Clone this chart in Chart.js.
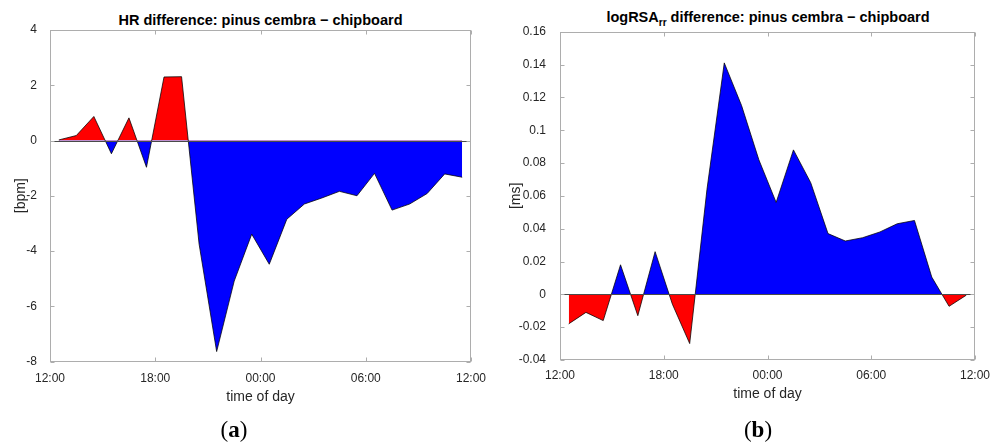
<!DOCTYPE html>
<html><head><meta charset="UTF-8">
<title>HR and logRSA difference</title>
<script src="https://cdn.jsdelivr.net/npm/chart.js"></script>
<style>
body{margin:0;width:999px;height:443px;background:#fff;position:relative;overflow:hidden;font-family:"Liberation Sans",Arial,sans-serif}
canvas{position:absolute;top:0}
#c1{left:0} #c2{left:500px}
.title{position:absolute;font-weight:bold;font-size:14.5px;line-height:16px;white-space:nowrap;transform:translateX(-50%);color:#000}
.title sub{font-size:10px;vertical-align:-4px;line-height:0}
.cap{position:absolute;font-family:"Liberation Serif",serif;font-size:23px;line-height:26px;transform:translate(-50%,-50%);color:#000}
</style></head><body>
<div class="title" style="left:260.5px;top:12px">HR difference: pinus cembra − chipboard</div>
<div class="title" style="left:768px;top:9px">logRSA<sub>rr</sub> difference: pinus cembra − chipboard</div>
<canvas id="c1" width="500" height="443"></canvas>
<canvas id="c2" width="499" height="443"></canvas>
<div class="cap" style="left:234px;top:430px">(<b>a</b>)</div>
<div class="cap" style="left:758px;top:430px">(<b>b</b>)</div>
<script>
// hours after 12:00, one value per hour
const hours = [0.5, 1.5, 2.5, 3.5, 4.5, 5.5, 6.5, 7.5, 8.5, 9.5, 10.5, 11.5,
  12.5, 13.5, 14.5, 15.5, 16.5, 17.5, 18.5, 19.5, 20.5, 21.5, 22.5, 23.5];
const hrDiff = [0.02, 0.18, 0.87, -0.48, 0.82, -0.97, 2.30, 2.31, -3.75, -7.64, -5.09, -3.39,
  -4.48, -2.85, -2.30, -2.08, -1.84, -2.00, -1.19, -2.52, -2.30, -1.92, -1.21, -1.33];
const rsaDiff = [-0.018, -0.011, -0.016, 0.018, -0.013, 0.026, -0.006, -0.030, 0.064, 0.141, 0.115, 0.082,
  0.056, 0.088, 0.068, 0.037, 0.0325, 0.0345, 0.038, 0.043, 0.045, 0.0105, -0.0073, -0.0005];

const xTicks = [0, 6, 12, 18, 24];
const xLabels = ['12:00', '18:00', '00:00', '06:00', '12:00'];
const hrTicks = [-8, -6, -4, -2, 0, 2, 4];
const hrLabels = ['-8', '-6', '-4', '-2', '0', '2', '4'];
const rsaTicks = [-0.04, -0.02, 0, 0.02, 0.04, 0.06, 0.08, 0.1, 0.12, 0.14, 0.16];
const rsaLabels = ['-0.04', '-0.02', '0', '0.02', '0.04', '0.06', '0.08', '0.1', '0.12', '0.14', '0.16'];

Chart.defaults.font.family = '"Liberation Sans", Arial, sans-serif';
const TXT = '#262626';

// matlab-like box, inward ticks and zero baseline
const frame = {
  id: 'frame',
  afterDatasetsDraw(chart) {
    const {ctx, chartArea: a, scales: {x, y}} = chart;
    const L = Math.round(a.left) + 0.5, R = Math.round(a.right) - 0.5;
    const T = Math.round(a.top) + 0.5, B = Math.round(a.bottom) - 0.5;
    ctx.save();
    ctx.lineWidth = 1;
    const y0 = Math.round(y.getPixelForValue(0)) + 0.5;
    ctx.strokeStyle = '#4a4a4a';
    ctx.beginPath(); ctx.moveTo(L, y0); ctx.lineTo(R, y0); ctx.stroke();
    ctx.strokeStyle = '#adadad';
    ctx.strokeRect(L, T, R - L, B - T);
    ctx.beginPath();
    x.ticks.forEach(t => {
      const p = Math.round(x.getPixelForValue(t.value)) + 0.5;
      ctx.moveTo(p, B); ctx.lineTo(p, B - 4);
      ctx.moveTo(p, T); ctx.lineTo(p, T + 4);
    });
    y.ticks.forEach(t => {
      const p = Math.round(y.getPixelForValue(t.value)) + 0.5;
      ctx.moveTo(L, p); ctx.lineTo(L + 4, p);
      ctx.moveTo(R, p); ctx.lineTo(R - 4, p);
    });
    ctx.stroke();
    ctx.restore();
  }
};

function makeChart(id, vals, yTicks, yLabels, yTitle, above, below, g) {
  return new Chart(document.getElementById(id), {
    type: 'line',
    data: {
      datasets: [{
        data: hours.map((h, i) => ({x: h, y: vals[i]})),
        borderColor: '#000', borderWidth: 0.75, pointRadius: 0, tension: 0,
        fill: {target: 'origin', above, below}
      }]
    },
    options: {
      responsive: false, animation: false,
      layout: {padding: g.pad},
      plugins: {legend: {display: false}, tooltip: {enabled: false}},
      scales: {
        x: {
          type: 'linear', min: 0, max: 24,
          grid: {display: false}, border: {display: false},
          afterBuildTicks: s => { s.ticks = xTicks.map(v => ({value: v})); },
          afterFit: s => { s.height = g.xh; },
          ticks: {padding: g.xpad, color: TXT, font: {size: 12}, maxRotation: 0, autoSkip: false,
            callback: v => xLabels[xTicks.indexOf(v)]},
          title: {display: true, text: 'time of day', color: TXT, font: {size: 14}, padding: 0}
        },
        y: {
          min: yTicks[0], max: yTicks[yTicks.length - 1],
          grid: {display: false}, border: {display: false},
          afterBuildTicks: s => { s.ticks = yTicks.map(v => ({value: v})); },
          afterFit: s => { s.width = g.yw; },
          ticks: {padding: g.ypad, color: TXT, font: {size: 12}, autoSkip: false,
            callback: v => yLabels[yTicks.indexOf(v)]},
          title: {display: true, text: yTitle, color: TXT, font: {size: 14}, padding: 0}
        }
      }
    },
    plugins: [frame]
  });
}

makeChart('c1', hrDiff, hrTicks, hrLabels, '[bpm]', '#ff0000', '#0000ff',
  {pad: {left: 13, top: 30, right: 29, bottom: 37}, yw: 37, xh: 44.5, xpad: 2, ypad: 5});
makeChart('c2', rsaDiff, rsaTicks, rsaLabels, '[ms]', '#0000ff', '#ff0000',
  {pad: {left: 8, top: 31.7, right: 24, bottom: 40}, yw: 52, xh: 43, xpad: 0, ypad: 6});
</script>
</body></html>
